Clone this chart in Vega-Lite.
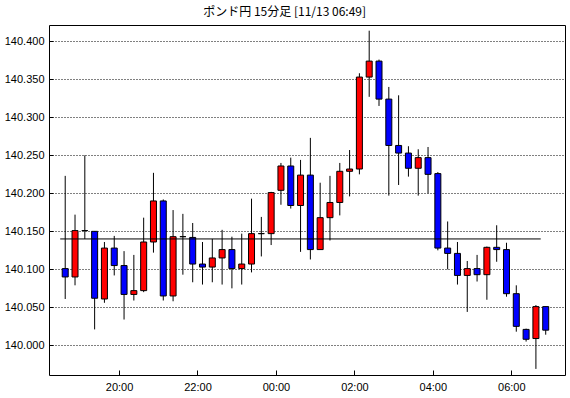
{
  "$schema": "https://vega.github.io/schema/vega-lite/v6.json",
  "width": 516,
  "height": 350,
  "autosize": "none",
  "padding": {"left": 49, "top": 25, "right": 5, "bottom": 23},
  "background": "white",
  "config": {
    "view": {"stroke": "black", "strokeWidth": 1, "fill": "white"},
    "axis": {"domain": false, "labelFont": "Liberation Sans", "labelFontSize": 11, "labelColor": "black", "tickColor": "black", "tickWidth": 1, "title": null}
  },
  "title": {"text": "ポンド円 15分足 [11/13 06:49]", "font": "Noto Sans CJK JP", "fontSize": 12, "fontWeight": "normal", "color": "black", "anchor": "middle", "frame": "bounds", "offset": 6},
  "datasets": {
    "candles": [
      {"t": "2019-11-12T18:30:00", "o": 140.101, "h": 140.223, "l": 140.061, "c": 140.090},
      {"t": "2019-11-12T18:45:00", "o": 140.090, "h": 140.172, "l": 140.079, "c": 140.151},
      {"t": "2019-11-12T19:00:00", "o": 140.151, "h": 140.250, "l": 140.140, "c": 140.151},
      {"t": "2019-11-12T19:15:00", "o": 140.150, "h": 140.150, "l": 140.021, "c": 140.062},
      {"t": "2019-11-12T19:30:00", "o": 140.061, "h": 140.136, "l": 140.056, "c": 140.128},
      {"t": "2019-11-12T19:45:00", "o": 140.128, "h": 140.144, "l": 140.092, "c": 140.105},
      {"t": "2019-11-12T20:00:00", "o": 140.105, "h": 140.124, "l": 140.034, "c": 140.067},
      {"t": "2019-11-12T20:15:00", "o": 140.067, "h": 140.119, "l": 140.059, "c": 140.072},
      {"t": "2019-11-12T20:30:00", "o": 140.072, "h": 140.168, "l": 140.070, "c": 140.136},
      {"t": "2019-11-12T20:45:00", "o": 140.136, "h": 140.227, "l": 140.122, "c": 140.190},
      {"t": "2019-11-12T21:00:00", "o": 140.190, "h": 140.192, "l": 140.059, "c": 140.065},
      {"t": "2019-11-12T21:15:00", "o": 140.065, "h": 140.178, "l": 140.058, "c": 140.143},
      {"t": "2019-11-12T21:30:00", "o": 140.143, "h": 140.173, "l": 140.093, "c": 140.143},
      {"t": "2019-11-12T21:45:00", "o": 140.142, "h": 140.161, "l": 140.083, "c": 140.107},
      {"t": "2019-11-12T22:00:00", "o": 140.107, "h": 140.136, "l": 140.080, "c": 140.103},
      {"t": "2019-11-12T22:15:00", "o": 140.103, "h": 140.140, "l": 140.083, "c": 140.115},
      {"t": "2019-11-12T22:30:00", "o": 140.115, "h": 140.152, "l": 140.080, "c": 140.126},
      {"t": "2019-11-12T22:45:00", "o": 140.126, "h": 140.143, "l": 140.075, "c": 140.101},
      {"t": "2019-11-12T23:00:00", "o": 140.101, "h": 140.147, "l": 140.080, "c": 140.107},
      {"t": "2019-11-12T23:15:00", "o": 140.107, "h": 140.193, "l": 140.096, "c": 140.147},
      {"t": "2019-11-12T23:30:00", "o": 140.147, "h": 140.169, "l": 140.117, "c": 140.147},
      {"t": "2019-11-12T23:45:00", "o": 140.147, "h": 140.202, "l": 140.132, "c": 140.201},
      {"t": "2019-11-13T00:00:00", "o": 140.204, "h": 140.240, "l": 140.185, "c": 140.236},
      {"t": "2019-11-13T00:15:00", "o": 140.236, "h": 140.247, "l": 140.180, "c": 140.184},
      {"t": "2019-11-13T00:30:00", "o": 140.184, "h": 140.244, "l": 140.123, "c": 140.224},
      {"t": "2019-11-13T00:45:00", "o": 140.224, "h": 140.273, "l": 140.113, "c": 140.126},
      {"t": "2019-11-13T01:00:00", "o": 140.126, "h": 140.214, "l": 140.126, "c": 140.168},
      {"t": "2019-11-13T01:15:00", "o": 140.168, "h": 140.223, "l": 140.138, "c": 140.188},
      {"t": "2019-11-13T01:30:00", "o": 140.188, "h": 140.240, "l": 140.171, "c": 140.229},
      {"t": "2019-11-13T01:45:00", "o": 140.229, "h": 140.257, "l": 140.196, "c": 140.232},
      {"t": "2019-11-13T02:00:00", "o": 140.232, "h": 140.358, "l": 140.225, "c": 140.353},
      {"t": "2019-11-13T02:15:00", "o": 140.353, "h": 140.414, "l": 140.327, "c": 140.374},
      {"t": "2019-11-13T02:30:00", "o": 140.374, "h": 140.376, "l": 140.315, "c": 140.324},
      {"t": "2019-11-13T02:45:00", "o": 140.324, "h": 140.340, "l": 140.197, "c": 140.263},
      {"t": "2019-11-13T03:00:00", "o": 140.263, "h": 140.329, "l": 140.211, "c": 140.253},
      {"t": "2019-11-13T03:15:00", "o": 140.253, "h": 140.262, "l": 140.222, "c": 140.233},
      {"t": "2019-11-13T03:30:00", "o": 140.233, "h": 140.258, "l": 140.197, "c": 140.247},
      {"t": "2019-11-13T03:45:00", "o": 140.247, "h": 140.261, "l": 140.200, "c": 140.225},
      {"t": "2019-11-13T04:00:00", "o": 140.226, "h": 140.228, "l": 140.125, "c": 140.128},
      {"t": "2019-11-13T04:15:00", "o": 140.128, "h": 140.163, "l": 140.100, "c": 140.121},
      {"t": "2019-11-13T04:30:00", "o": 140.121, "h": 140.136, "l": 140.080, "c": 140.092},
      {"t": "2019-11-13T04:45:00", "o": 140.092, "h": 140.111, "l": 140.044, "c": 140.101},
      {"t": "2019-11-13T05:00:00", "o": 140.101, "h": 140.119, "l": 140.084, "c": 140.093},
      {"t": "2019-11-13T05:15:00", "o": 140.093, "h": 140.130, "l": 140.060, "c": 140.129},
      {"t": "2019-11-13T05:30:00", "o": 140.129, "h": 140.158, "l": 140.110, "c": 140.126},
      {"t": "2019-11-13T05:45:00", "o": 140.126, "h": 140.135, "l": 140.064, "c": 140.068},
      {"t": "2019-11-13T06:00:00", "o": 140.068, "h": 140.079, "l": 140.018, "c": 140.025},
      {"t": "2019-11-13T06:15:00", "o": 140.021, "h": 140.022, "l": 140.005, "c": 140.008},
      {"t": "2019-11-13T06:30:00", "o": 140.009, "h": 140.053, "l": 139.969, "c": 140.051},
      {"t": "2019-11-13T06:45:00", "o": 140.051, "h": 140.051, "l": 140.014, "c": 140.020}
    ],
    "ref": [
      {"t0": "2019-11-12T18:30:00", "t1": "2019-11-13T06:45:00", "v": 140.140}
    ]
  },
  "layer": [
    {
      "data": {"name": "candles"},
      "mark": {"type": "rule", "color": "black", "strokeWidth": 1, "xOffset": 5},
      "encoding": {
        "x": {
          "field": "t", "type": "temporal",
          "scale": {"nice": false, "domain": [
            {"year": 2019, "month": 11, "date": 12, "hours": 18, "minutes": 20, "seconds": 30},
            {"year": 2019, "month": 11, "date": 13, "hours": 7, "minutes": 14, "seconds": 30}
          ]},
          "axis": {
            "orient": "bottom", "ticks": true, "tickSize": -5, "grid": false, "labelPadding": 11,
            "values": [
              {"year": 2019, "month": 11, "date": 12, "hours": 20},
              {"year": 2019, "month": 11, "date": 12, "hours": 22},
              {"year": 2019, "month": 11, "date": 13, "hours": 0},
              {"year": 2019, "month": 11, "date": 13, "hours": 2},
              {"year": 2019, "month": 11, "date": 13, "hours": 4},
              {"year": 2019, "month": 11, "date": 13, "hours": 6}
            ],
            "format": "%H:%M", "formatType": "time", "labelFlush": false, "labelOverlap": false
          }
        },
        "y": {
          "field": "l", "type": "quantitative",
          "scale": {"domain": [139.961, 140.4215], "zero": false, "nice": false},
          "axis": {
            "orient": "left", "ticks": true, "tickSize": -4, "labelPadding": 9,
            "values": [140.0, 140.05, 140.1, 140.15, 140.2, 140.25, 140.3, 140.35, 140.4],
            "format": ".3f",
            "grid": true, "gridColor": "black", "gridDash": [1, 2], "gridWidth": 1,
            "labelFlush": false, "labelOverlap": false
          }
        },
        "y2": {"field": "h"}
      }
    },
    {
      "data": {"name": "candles"},
      "mark": {"type": "bar", "stroke": "black", "strokeWidth": 1, "size": 6, "xOffset": 5},
      "encoding": {
        "x": {"field": "t", "type": "temporal"},
        "y": {"field": "o", "type": "quantitative"},
        "y2": {"field": "c"},
        "color": {"condition": {"test": "datum.c >= datum.o", "value": "#ff0000"}, "value": "#0000ff"}
      }
    },
    {
      "data": {"name": "ref"},
      "mark": {"type": "rule", "color": "black", "strokeWidth": 1},
      "encoding": {
        "x": {"field": "t0", "type": "temporal"},
        "x2": {"field": "t1"},
        "y": {"field": "v", "type": "quantitative"}
      }
    }
  ]
}
